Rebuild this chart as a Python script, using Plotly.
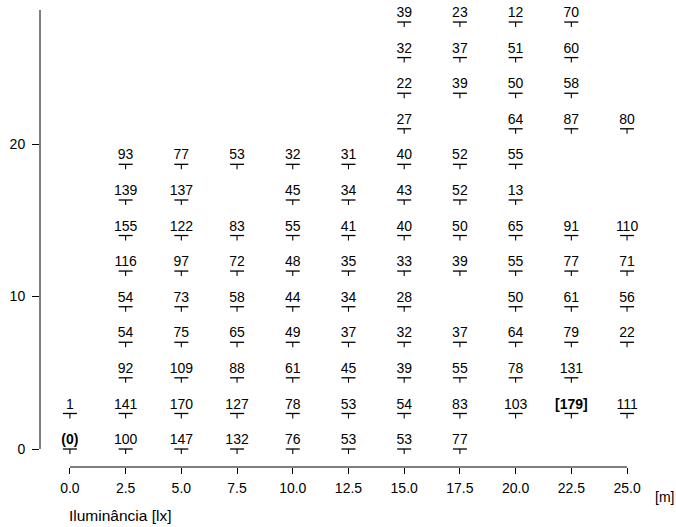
import plotly.graph_objects as go

# measuring grid (metres)
columns_m = [0.0, 2.5, 5.0, 7.5, 10.0, 12.5, 15.0, 17.5, 20.0, 22.5, 25.0]
rows_m = [0.0, 2.33, 4.67, 7.0, 9.33, 11.67, 14.0, 16.33, 18.67, 21.0, 23.33, 25.67, 28.0]

# illuminance readings [lx], one list per grid row (bottom row first), None = no reading
lux_row_00 = [0, 100, 147, 132, 76, 53, 53, 77, None, None, None]
lux_row_01 = [1, 141, 170, 127, 78, 53, 54, 83, 103, 179, 111]
lux_row_02 = [None, 92, 109, 88, 61, 45, 39, 55, 78, 131, None]
lux_row_03 = [None, 54, 75, 65, 49, 37, 32, 37, 64, 79, 22]
lux_row_04 = [None, 54, 73, 58, 44, 34, 28, None, 50, 61, 56]
lux_row_05 = [None, 116, 97, 72, 48, 35, 33, 39, 55, 77, 71]
lux_row_06 = [None, 155, 122, 83, 55, 41, 40, 50, 65, 91, 110]
lux_row_07 = [None, 139, 137, None, 45, 34, 43, 52, 13, None, None]
lux_row_08 = [None, 93, 77, 53, 32, 31, 40, 52, 55, None, None]
lux_row_09 = [None, None, None, None, None, None, 27, None, 64, 87, 80]
lux_row_10 = [None, None, None, None, None, None, 22, 39, 50, 58, None]
lux_row_11 = [None, None, None, None, None, None, 32, 37, 51, 60, None]
lux_row_12 = [None, None, None, None, None, None, 39, 23, 12, 70, None]

lux_rows = [lux_row_00, lux_row_01, lux_row_02, lux_row_03, lux_row_04,
            lux_row_05, lux_row_06, lux_row_07, lux_row_08, lux_row_09,
            lux_row_10, lux_row_11, lux_row_12]

x_ticks = [0.0, 2.5, 5.0, 7.5, 10.0, 12.5, 15.0, 17.5, 20.0, 22.5, 25.0]
y_ticks = [0, 10, 20]

FONT = "Liberation Sans, Arial, Helvetica, sans-serif"
FS = 14
W, H = 676, 527
L, R, T, B = 38, 26, 10, 60
X_RANGE = [-1.342, 26.03]
Y_RANGE = [-1.18, 28.79]

# collect the measured points
px, py, vals = [], [], []
for y, row in zip(rows_m, lux_rows):
    for x, v in zip(columns_m, row):
        if v is not None:
            px.append(x)
            py.append(y)
            vals.append(v)

vmin, vmax = min(vals), max(vals)


def label(v):
    if v == vmin:
        return f"<b>({v})</b>"
    if v == vmax:
        return f"<b>[{v}]</b>"
    return str(v)


labels = [label(v) for v in vals]

fig = go.Figure()

# horizontal bar of the "T" mark at each point
fig.add_trace(go.Scatter(
    x=px, y=py, mode="markers", hoverinfo="skip", cliponaxis=False,
    marker=dict(symbol="line-ew", size=14 / 1.4, color="black",
                line=dict(width=1.3, color="black")),
))
# short downward stem of the "T" mark
fig.add_trace(go.Scatter(
    x=px, y=py, mode="markers", hoverinfo="skip", cliponaxis=False,
    marker=dict(symbol="line-ns", size=5 / 1.4, standoff=2.5, color="black",
                line=dict(width=1.1, color="black")),
))
# reading labels above each mark (invisible marker only sets the text gap)
fig.add_trace(go.Scatter(
    x=px, y=py, mode="markers+text", text=labels, textposition="top center",
    textfont=dict(family=FONT, size=FS, color="black"), hoverinfo="skip",
    cliponaxis=False,
    marker=dict(size=0.6, color="rgba(0,0,0,0)"),
))

fig.update_layout(
    width=W, height=H,
    margin=dict(l=L, r=R, t=T, b=B, pad=0),
    paper_bgcolor="white", plot_bgcolor="white",
    showlegend=False,
    font=dict(family=FONT, size=FS, color="black"),
    xaxis=dict(range=X_RANGE, tickvals=x_ticks, tickformat=".1f",
               ticks="outside", ticklen=6, tickwidth=1, tickcolor="black",
               showline=False, showgrid=False, zeroline=False,
               tickfont=dict(family=FONT, size=FS), ticklabelstandoff=2),
    yaxis=dict(range=Y_RANGE, tickvals=y_ticks,
               ticks="outside", ticklen=7, tickwidth=1, tickcolor="black",
               showline=False, showgrid=False, zeroline=False,
               tickfont=dict(family=FONT, size=FS), ticklabelstandoff=4),
    shapes=[
        # x axis line spanning the tick range
        dict(type="line", xref="x", yref="paper", x0=x_ticks[0], x1=x_ticks[-1],
             y0=0, y1=0, line=dict(color="black", width=1)),
        # y axis line from 0 up to the top of the plot
        dict(type="line", xref="paper", yref="y", x0=0, x1=0,
             y0=0, y1=Y_RANGE[1], line=dict(color="black", width=1)),
    ],
    annotations=[
        dict(text="[m]", xref="paper", yref="paper",
             x=(665 - L) / (W - L - R), y=-(497 - (H - B)) / (H - T - B),
             xanchor="center", yanchor="middle", showarrow=False,
             font=dict(family=FONT, size=FS)),
        dict(text="Iluminância [lx]", xref="x", yref="paper",
             x=-0.15, y=-(515 - (H - B)) / (H - T - B),
             xanchor="left", yanchor="middle", showarrow=False,
             font=dict(family=FONT, size=15.5)),
    ],
)

fig.write_html("out.html")
